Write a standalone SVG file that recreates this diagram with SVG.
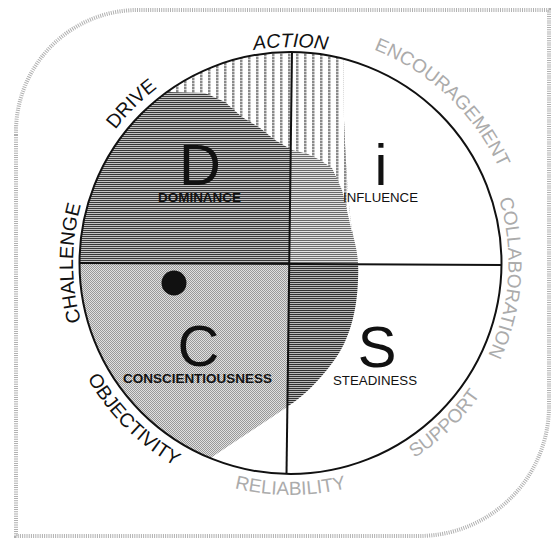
<svg xmlns="http://www.w3.org/2000/svg" width="552" height="543" viewBox="0 0 552 543">
<style>
.blk{font-family:"Liberation Sans",Arial,sans-serif;font-size:19.5px;fill:#111}
.gry{font-family:"Liberation Sans",Arial,sans-serif;font-size:19px;fill:#ababab}
.big{font-family:"Liberation Sans",Arial,sans-serif;font-size:58px;fill:#111;text-anchor:middle}
.sub{font-family:"Liberation Sans",Arial,sans-serif;font-size:13.5px;fill:#111;text-anchor:middle}
.ln{fill:none;stroke:#111;stroke-width:2}
</style>
<defs>
<pattern id="hD" width="4" height="2" patternUnits="userSpaceOnUse"><rect width="4" height="2" fill="#c4c4c4"/><rect width="4" height="1" fill="#3a3a3a"/></pattern>
<pattern id="hI" width="4" height="2" patternUnits="userSpaceOnUse"><rect width="4" height="2" fill="#e2e2e2"/><rect width="4" height="1" fill="#6a6a6a"/></pattern>
<pattern id="hS" width="4" height="2" patternUnits="userSpaceOnUse"><rect width="4" height="2" fill="#b8b8b8"/><rect width="4" height="1" fill="#303030"/></pattern>
<pattern id="dC" width="2" height="2" patternUnits="userSpaceOnUse"><rect width="2" height="2" fill="#e0e0e0"/><rect width="1" height="1" fill="#999"/><rect x="1" y="1" width="1" height="1" fill="#999"/></pattern>
<pattern id="vS" width="8" height="3" patternUnits="userSpaceOnUse"><rect width="8" height="3" fill="#fff"/><rect width="2.5" height="2.4" fill="#8a8a8a"/></pattern>
<clipPath id="circ"><circle cx="290.5" cy="263" r="211"/></clipPath>
<clipPath id="blob"><path d="M343,40 L344,120 C346,170 349,215 353,235 C357,250 359,262 358,280 C357,310 350,340 333,362 C318,382 305,395 287,407 C262,424 236,441 205,462 L40,480 L40,40 Z"/></clipPath>
<path id="pAction" d="M151.7,97.5 A216,216 0 0 1 429.3,97.5"/>
<path id="pDrive" d="M78,206.1 A220,220 0 0 1 233.6,50.5"/>
<path id="pChal" d="M123.9,402.8 A217.5,217.5 0 0 1 123.9,123.2"/>
<path id="pObj" d="M57.9,283.4 A233.5,233.5 0 0 0 270.1,495.6"/>
<path id="pRel" d="M141.4,440.7 A232,232 0 0 0 439.6,440.7"/>
<path id="pSup" d="M345.6,487.3 A231,231 0 0 0 512.3,327.4"/>
<path id="pCol" d="M466.9,134.9 A218,218 0 0 1 447.3,414.4"/>
<path id="pEnc" d="M343.6,40.2 A229,229 0 0 1 510,197.6"/>
</defs>
<rect width="552" height="543" fill="#fff"/>
<path d="M16,135 A122,122 0 0 1 138,10 L549,10 L549,405 A130,130 0 0 1 419,536 L16,536 Z" fill="none" stroke="#b0b0b0" stroke-width="4" stroke-dasharray="1 1.2"/>
<g id="shading" clip-path="url(#circ)">
<g clip-path="url(#blob)">
<polygon points="40,40 292.2,40 289,264 40,263" fill="url(#hD)"/>
<polygon points="292.2,40 560,40 560,265 289,264" fill="url(#hI)"/>
<polygon points="40,263 289,264 285.7,500 40,500" fill="url(#dC)"/>
<polygon points="289,264 560,265 560,500 285.7,500" fill="url(#hS)"/>
<polygon points="150,30 370,30 370,237 353,237 348,215 342,190 332,168 320,160 308,154 292,150 275,140 260,128 242,117 225,102 205,93 165,92 150,92" fill="url(#vS)"/>
</g>
</g>
<g id="axes">
<circle class="ln" cx="290.5" cy="263" r="211" stroke-width="2.2"/>
<path class="ln" d="M292,52 L286.5,474"/>
<path class="ln" d="M79,263 L501.5,265"/>
</g>
<circle id="dot" cx="174" cy="283" r="12.5" fill="#111"/>
<g id="D"><text class="big" x="200" y="185">D</text><text class="sub" x="199.5" y="202" font-weight="bold" textLength="83" lengthAdjust="spacingAndGlyphs">DOMINANCE</text></g>
<g id="i"><text class="big" x="381" y="185">i</text><text class="sub" x="380.5" y="202" textLength="75" lengthAdjust="spacingAndGlyphs">INFLUENCE</text></g>
<g id="C"><text class="big" x="198.5" y="366">C</text><text class="sub" x="197.5" y="383" font-weight="bold" textLength="149" lengthAdjust="spacingAndGlyphs">CONSCIENTIOUSNESS</text></g>
<g id="S"><text class="big" x="377" y="367">S</text><text class="sub" x="375" y="385" textLength="84" lengthAdjust="spacingAndGlyphs">STEADINESS</text></g>
<g id="outer-labels">
<text class="blk" font-style="italic" font-size="20"><textPath href="#pAction" startOffset="50%" text-anchor="middle">ACTION</textPath></text>
<text class="blk"><textPath href="#pDrive" startOffset="50%" text-anchor="middle">DRIVE</textPath></text>
<text class="blk"><textPath href="#pChal" startOffset="50%" text-anchor="middle">CHALLENGE</textPath></text>
<text class="blk"><textPath href="#pObj" startOffset="50%" text-anchor="middle">OBJECTIVITY</textPath></text>
<text class="gry"><textPath href="#pRel" startOffset="50%" text-anchor="middle">RELIABILITY</textPath></text>
<text class="gry"><textPath href="#pSup" startOffset="50%" text-anchor="middle">SUPPORT</textPath></text>
<text class="gry"><textPath href="#pCol" startOffset="50%" text-anchor="middle">COLLABORATION</textPath></text>
<text class="gry"><textPath href="#pEnc" startOffset="50%" text-anchor="middle">ENCOURAGEMENT</textPath></text>
</g>
</svg>
